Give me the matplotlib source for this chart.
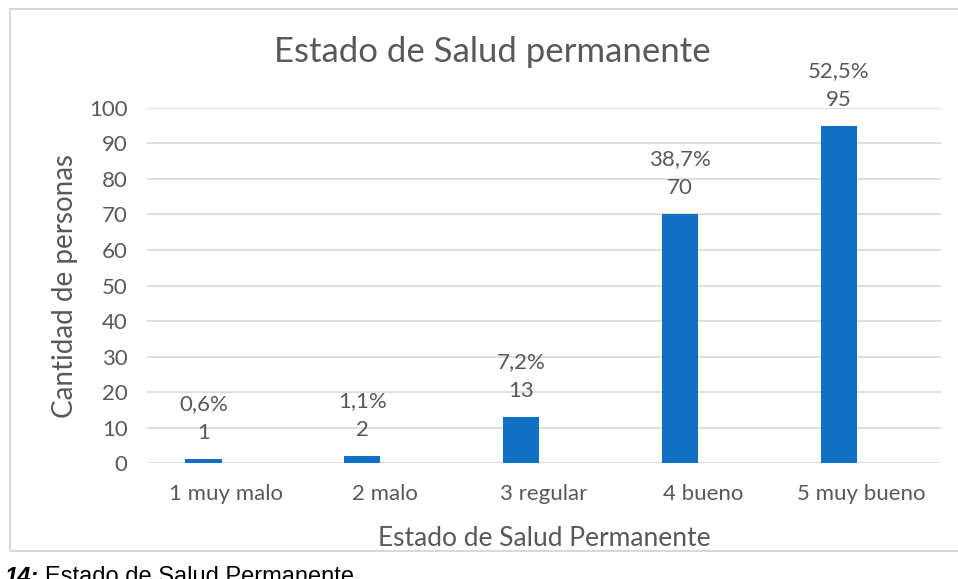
#Bar chart: Estado de Salud permanente

import numpy as np
import matplotlib.pyplot as plt
from matplotlib.patches import Rectangle

#Data
categorias = ['1 muy malo', '2 malo', '3 regular', '4 bueno', '5 muy bueno']
cantidad = [1, 2, 13, 70, 95]
porcentaje = ['0,6%', '1,1%', '7,2%', '38,7%', '52,5%']

plt.rcParams['font.family'] = ['Lato', 'DejaVu Sans']
gris = '#595959'
azul = '#1170C4'

fig = plt.figure(figsize=(9.58, 5.79), dpi=100)
ax = fig.add_axes([0.1535, 0.2003, 0.8288, 0.6132])

x = np.arange(len(categorias))
bars = ax.bar(x - 0.145, cantidad, width=0.228, color=azul, zorder=3)

ax.set_xlim(-0.5, len(categorias) - 0.5)
ax.set_ylim(0, 100)
ax.set_yticks(np.arange(0, 101, 10))
ax.set_xticks(x)
ax.set_xticklabels(categorias)
ax.tick_params(axis='both', length=0, colors=gris, labelsize=16)
ax.tick_params(axis='x', pad=15)
ax.tick_params(axis='y', pad=14)
ax.grid(axis='y', color='#D9D9D9', linewidth=1.2, zorder=0)
for s in ax.spines.values():
    s.set_visible(False)

#Value and percentage labels above the bars
for b, v, p in zip(bars, cantidad, porcentaje):
    cx = b.get_x() + b.get_width() / 2
    ax.annotate(str(v), (cx, v), xytext=(0, 26), textcoords='offset pixels',
                ha='center', va='center', fontsize=16, color=gris)
    ax.annotate(p, (cx, v), xytext=(0, 55), textcoords='offset pixels',
                ha='center', va='center', fontsize=16, color=gris)

ax.set_ylabel('Cantidad de personas', fontsize=20, color=gris, labelpad=8)
ax.set_xlabel('Estado de Salud Permanente', fontsize=19, color=gris, labelpad=16)
fig.text(0.514, 1 - 52 / 579, 'Estado de Salud permanente', ha='center',
         va='center', fontsize=25, color=gris)

#Chart frame and surrounding document text
fig.add_artist(Rectangle((10 / 958, 1 - 551 / 579), 1.0, 542 / 579,
                         transform=fig.transFigure, fill=False,
                         edgecolor='#D9D9D9', linewidth=1.5))
fig.text(0.0, 1 + 8 / 579, 'encuestado:', ha='left', va='center', fontsize=15,
         family='Liberation Sans', color='black')
fig.text(0.005, 1 - 566 / 579, '14:', ha='left', va='top', fontsize=17,
         family='Liberation Sans', weight='bold', style='italic', color='black')
fig.text(0.047, 1 - 566 / 579, 'Estado de Salud Permanente', ha='left', va='top',
         fontsize=17, family='Liberation Sans', color='black')

fig.savefig('out.png', dpi=100)
